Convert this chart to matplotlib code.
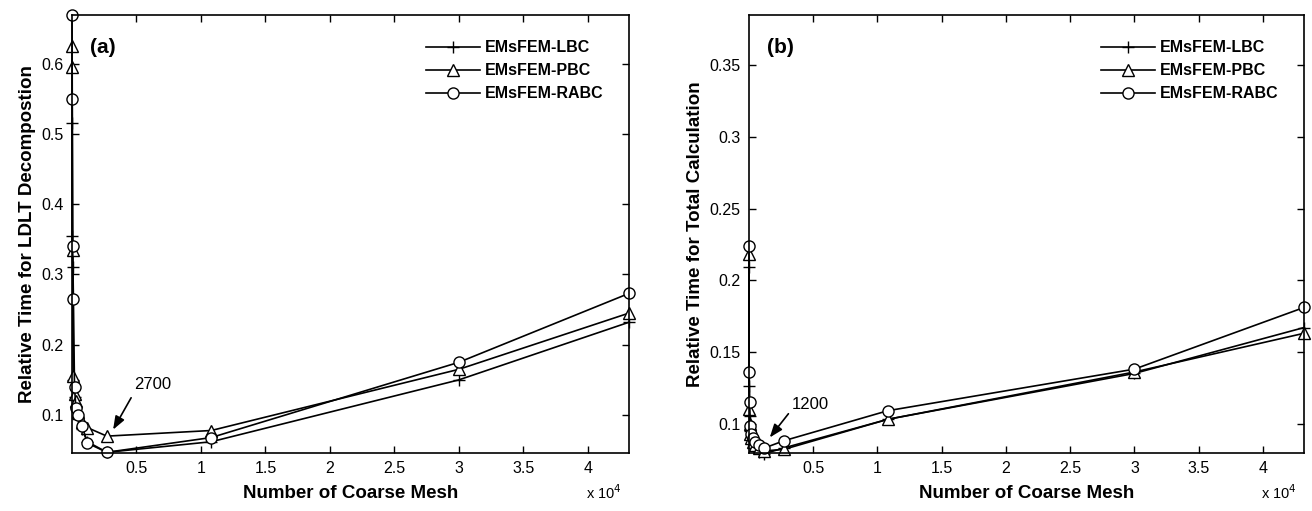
import numpy as np
import matplotlib.pyplot as plt
from matplotlib.ticker import FuncFormatter

plt.rcParams['font.family'] = ['Liberation Sans', 'DejaVu Sans']

# coarse mesh counts (shared by both panels)
mesh = [3, 12, 48, 108, 192, 300, 432, 768, 1200, 2700, 10800, 30000, 43200]

# (a) relative time for LDLT decomposition
ldlt_lbc = [0.515, 0.355, 0.31, 0.15, 0.125, 0.11, 0.095, 0.08, 0.062, 0.047, 0.062, 0.15, 0.232]
ldlt_pbc = [0.625, 0.595, 0.335, 0.155, 0.13, 0.12, 0.105, 0.09, 0.082, 0.07, 0.078, 0.165, 0.245]
ldlt_rabc = [0.669, 0.55, 0.34, 0.265, 0.14, 0.11, 0.1, 0.085, 0.06, 0.047, 0.068, 0.175, 0.273]

# (b) relative time for total calculation
tot_lbc = [0.209, 0.126, 0.105, 0.095, 0.09, 0.086, 0.083, 0.08, 0.079, 0.083, 0.103, 0.135, 0.167]
tot_pbc = [0.218, 0.11, 0.1, 0.093, 0.09, 0.087, 0.085, 0.083, 0.081, 0.082, 0.103, 0.136, 0.163]
tot_rabc = [0.224, 0.136, 0.115, 0.098, 0.093, 0.09, 0.087, 0.085, 0.083, 0.088, 0.109, 0.138, 0.181]

labels = ['EMsFEM-LBC', 'EMsFEM-PBC', 'EMsFEM-RABC']
markers = ['+', '^', 'o']

fig = plt.figure(figsize=(13.12, 5.11), dpi=100)
ax1 = fig.add_axes([0.0549, 0.1135, 0.4245, 0.8571])
ax2 = fig.add_axes([0.5709, 0.1135, 0.4230, 0.8571])

xfmt = FuncFormatter(lambda v, p: ('%g' % (v / 1e4)))


def draw(ax, series, ylim, yticks, ylabel, tag, ann):
    for ys, m, lab in zip(series, markers, labels):
        ms = 9 if m == '+' else 8
        ax.plot(mesh, ys, color='black', lw=1.2, marker=m, ms=ms,
                mfc='white' if m != '+' else 'black', mec='black', mew=1.0,
                label=lab, clip_on=False)
    ax.set_xlim(0, 43200)
    ax.set_ylim(*ylim)
    ax.set_xticks([5000, 10000, 15000, 20000, 25000, 30000, 35000, 40000])
    ax.xaxis.set_major_formatter(xfmt)
    ax.set_yticks(yticks)
    ax.yaxis.set_major_formatter(FuncFormatter(lambda v, p: '%g' % round(v, 3)))
    ax.tick_params(direction='in', length=5, width=1, top=True, right=True,
                   labelsize=11.5, pad=6)
    for s in ax.spines.values():
        s.set_linewidth(1.2)
    ax.set_xlabel('Number of Coarse Mesh', fontsize=13.5, fontweight='bold', labelpad=6)
    ax.set_ylabel(ylabel, fontsize=13.5, fontweight='bold', labelpad=4)
    ax.text(0.987, -0.09, 'x 10$^4$', transform=ax.transAxes, ha='right',
            va='center', fontsize=10.5)
    ax.text(0.032, 0.925, tag, transform=ax.transAxes, fontsize=15,
            fontweight='bold', va='center')
    ax.legend(loc='upper right', bbox_to_anchor=(0.98, 0.975), frameon=False,
              prop={'size': 11.5, 'weight': 'bold'}, handlelength=3.4,
              handletextpad=0.3, labelspacing=0.5)
    txt, txy, head, tail = ann
    ax.annotate('', xy=head, xytext=tail,
                arrowprops=dict(arrowstyle='-|>,head_length=0.8,head_width=0.3',
                                color='black', lw=1.2))
    ax.text(txy[0], txy[1], txt, fontsize=12, va='center')


draw(ax1, [ldlt_lbc, ldlt_pbc, ldlt_rabc], (0.046, 0.669),
     [0.1, 0.2, 0.3, 0.4, 0.5, 0.6], 'Relative Time for LDLT Decompostion', '(a)',
     ('2700', (4850, 0.143), (3080, 0.0758), (4690, 0.128)))
draw(ax2, [tot_lbc, tot_pbc, tot_rabc], (0.0795, 0.385),
     [0.1, 0.15, 0.2, 0.25, 0.3, 0.35], 'Relative Time for Total Calculation', '(b)',
     ('1200', (3360, 0.1133), (1480, 0.0888), (3200, 0.1084)))

fig.savefig('out.png', dpi=100)
